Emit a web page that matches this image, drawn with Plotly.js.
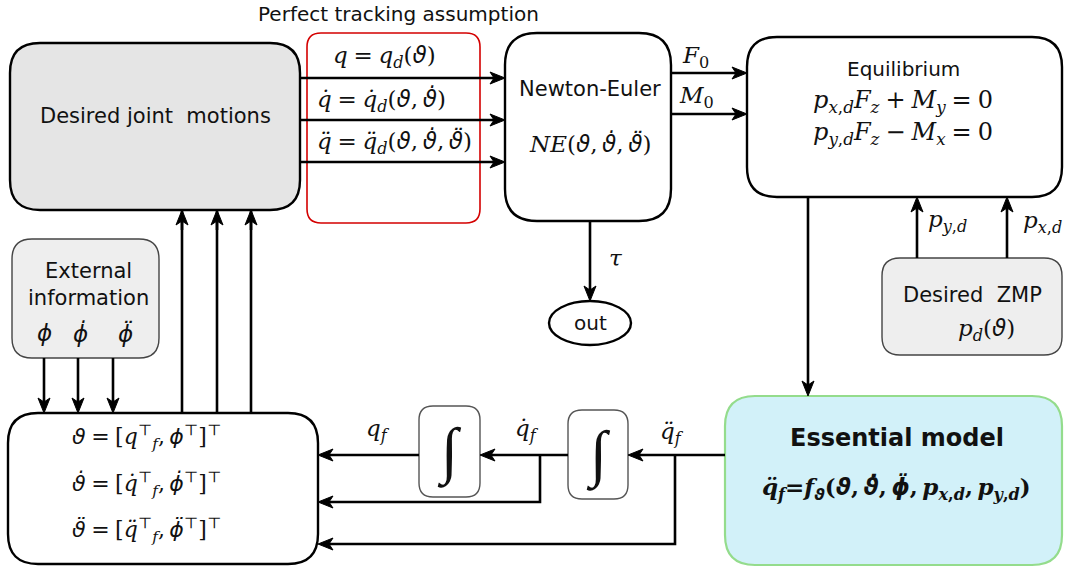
<!DOCTYPE html>
<html>
<head>
<meta charset="utf-8">
<script src="https://cdn.plot.ly/plotly-3.0.1.min.js"></script>
<style>html,body{margin:0;padding:0;background:#fff;}#chart{width:1072px;height:572px;}</style>
</head>
<body>
<div id="chart"></div>
<script>
// Greek glyphs are drawn in a face that composes the combining dots correctly
const G = s => `<span style="font-family:DejaVu Sans">${s}</span>`;
const th = G("ϑ"), thD = G("ϑ̇"), thDD = G("ϑ̈"), ph = G("ϕ"), phD = G("ϕ̇"), phDD = G("ϕ̈");

// ---- Text content (labels of the diagram) ----
const titleText = "Perfect tracking assumption";
const blockLabels = ["Desired joint\u00a0\u00a0motions", "Newton-Euler", "Equilibrium", "Desired\u00a0\u00a0ZMP", "External<br>information", "out", "Essential model"];
const trackingEqs = [
  `<i>q</i>\u2005=\u2005<i>q</i><sub><i>d</i></sub>(<i>${th}</i>)`,
  `<i>q̇</i>\u2005=\u2005<i>q̇</i><sub><i>d</i></sub>(<i>${th}</i>,\u2009<i>${thD}</i>)`,
  `<i>q̈</i>\u2005=\u2005<i>q̈</i><sub><i>d</i></sub>(<i>${th}</i>,\u2009<i>${thD}</i>,\u2009<i>${thDD}</i>)`
];
const neFormula = `<i>NE</i>(<i>${th}</i>,\u2009<i>${thD}</i>,\u2009<i>${thDD}</i>)`;
const wrenchLabels = ["<i>F</i><sub>0</sub>", "<i>M</i><sub>0</sub>"];
const equilibriumEqs = [
  "<i>p</i><sub><i>x</i>,<i>d</i></sub><i>F</i><sub><i>z</i></sub>\u2005+\u2005<i>M</i><sub><i>y</i></sub>\u2005=\u20050",
  "<i>p</i><sub><i>y</i>,<i>d</i></sub><i>F</i><sub><i>z</i></sub>\u2005−\u2005<i>M</i><sub><i>x</i></sub>\u2005=\u20050"
];
const torqueLabel = "<i>τ</i>";
const zmpLabels = ["<i>p</i><sub><i>y</i>,<i>d</i></sub>", "<i>p</i><sub><i>x</i>,<i>d</i></sub>"];
const zmpFormula = `<i>p</i><sub><i>d</i></sub>(<i>${th}</i>)`;
const externalSymbols = [`<i>${ph}</i>`, `<i>${phD}</i>`, `<i>${phDD}</i>`];
const stateEqs = [
  `<i>${th}</i>\u2005=\u2005[<i>q</i><sup>⊤</sup><sub><i>f</i></sub>,\u2009<i>${ph}</i><sup>⊤</sup>]<sup>⊤</sup>`,
  `<i>${thD}</i>\u2005=\u2005[<i>q̇</i><sup>⊤</sup><sub><i>f</i></sub>,\u2009<i>${phD}</i><sup>⊤</sup>]<sup>⊤</sup>`,
  `<i>${thDD}</i>\u2005=\u2005[<i>q̈</i><sup>⊤</sup><sub><i>f</i></sub>,\u2009<i>${phDD}</i><sup>⊤</sup>]<sup>⊤</sup>`
];
const feedbackLabels = ["<i>q</i><sub><i>f</i></sub>", "<i>q̇</i><sub><i>f</i></sub>", "<i>q̈</i><sub><i>f</i></sub>"];
const integralSymbol = "∫";
const modelEq = `<b><i>q̈</i><sub><i>f</i></sub>=<i>f</i><sub><i>${th}</i></sub>(<i>${th}</i>,\u2009<i>${thD}</i>,\u2009<i>${phDD}</i>,\u2009<i>p</i><sub><i>x</i>,<i>d</i></sub>,\u2009<i>p</i><sub><i>y</i>,<i>d</i></sub>)</b>`;

// ---- Geometry / styling (layout of the diagram) ----
const SANS = "DejaVu Sans";
const SERIF = "DejaVu Serif";

function rr(x0, y0, x1, y1, r) {
  return `M${x0+r},${y0} L${x1-r},${y0} Q${x1},${y0} ${x1},${y0+r} L${x1},${y1-r} Q${x1},${y1} ${x1-r},${y1} L${x0+r},${y1} Q${x0},${y1} ${x0},${y1-r} L${x0},${y0+r} Q${x0},${y0} ${x0+r},${y0} Z`;
}
const shapes = [];
function box(x0, y0, x1, y1, r, fill, lc, lw) {
  shapes.push({type: "path", xref: "x", yref: "y", path: rr(x0, y0, x1, y1, r), fillcolor: fill, line: {color: lc, width: lw}, layer: "below"});
}
function arrow(pts, head) {
  const n = pts.length;
  const [tx, ty] = pts[n-1];
  const [px, py] = pts[n-2];
  let dx = tx - px, dy = ty - py;
  const len = Math.hypot(dx, dy); dx /= len; dy /= len;
  const L = 15, W = 6, N = 4;
  const linePts = pts.map(p => p.slice());
  if (head) { linePts[n-1] = [tx - dx*(L-N-1), ty - dy*(L-N-1)]; }
  shapes.push({type: "path", xref: "x", yref: "y", path: "M" + linePts.map(p => p[0] + "," + p[1]).join(" L"), line: {color: "#000", width: 2.6}});
  if (head) {
    const bx = tx - dx*L, by = ty - dy*L;
    const ppx = -dy, ppy = dx;
    const path = `M${tx},${ty} L${bx+W*ppx},${by+W*ppy} L${tx-dx*(L-N)},${ty-dy*(L-N)} L${bx-W*ppx},${by-W*ppy} Z`;
    shapes.push({type: "path", xref: "x", yref: "y", path: path, fillcolor: "#000", line: {color: "#000", width: 1}});
  }
}

// boxes
box(10, 43, 300, 210, 30, "#e5e5e5", "#000", 2.4);
box(307, 33, 480, 223, 14, "rgba(0,0,0,0)", "#d40000", 1.6);
box(505, 33, 671, 221, 32, "#ffffff", "#000", 2.4);
box(747, 37, 1062, 197, 30, "#ffffff", "#000", 2.4);
box(882, 258, 1062, 355, 18, "#eeeeee", "#444", 1.4);
box(12, 239, 159, 358, 20, "#eeeeee", "#444", 1.4);
box(8, 413, 318, 564, 30, "#ffffff", "#000", 2.4);
box(419, 406, 480, 497, 14, "#ffffff", "#555", 1.4);
box(568, 410, 628, 499, 14, "#ffffff", "#555", 1.4);
box(725, 396, 1062, 565, 30, "#d2f1f9", "#94dc8c", 2.2);
shapes.push({type: "circle", xref: "x", yref: "y", x0: 549, x1: 631, y0: 301, y1: 345, fillcolor: "#fff", line: {color: "#000", width: 2.4}});

// arrows
[78, 120, 162].forEach(y => arrow([[300, y], [505, y]], true));
[73, 114].forEach(y => arrow([[671, y], [747, y]], true));
arrow([[590, 221], [590, 301]], true);
arrow([[808, 197], [808, 396]], true);
[917, 1007].forEach(x => arrow([[x, 258], [x, 197]], true));
[44, 78, 113].forEach(x => arrow([[x, 358], [x, 413]], true));
[182, 217, 251].forEach(x => arrow([[x, 413], [x, 210]], false));
[182, 217, 251].forEach(x => arrow([[x, 230], [x, 210]], true));
arrow([[725, 455], [628, 455]], true);
arrow([[568, 455], [480, 455]], true);
arrow([[419, 455], [318, 455]], true);
arrow([[540, 455], [540, 502], [318, 502]], true);
arrow([[675, 455], [675, 544], [318, 544]], true);

// annotations
const ann = [];
function txt(x, y, text, size, family, opts) {
  ann.push(Object.assign({x: x, y: y, xref: "x", yref: "y", text: text, showarrow: false,
    font: {family: family, size: size, color: "#111"}, xanchor: "center", yanchor: "middle"}, opts || {}));
}
txt(398, 14, titleText, 20, SANS);
txt(155, 116, blockLabels[0], 21, SANS);
txt(384, 57, trackingEqs[0], 23, SERIF);
txt(381, 100, trackingEqs[1], 23, SERIF);
txt(394, 142, trackingEqs[2], 23, SERIF);
txt(590, 89, blockLabels[1], 21, SANS);
txt(590, 143, neFormula, 23, SERIF);
txt(695, 57, wrenchLabels[0], 23, SERIF);
txt(696, 97, wrenchLabels[1], 23, SERIF);
txt(903, 69, blockLabels[2], 20, SANS);
txt(903, 101, equilibriumEqs[0], 24, SERIF);
txt(903, 133, equilibriumEqs[1], 24, SERIF);
txt(616, 258, torqueLabel, 23, SERIF);
txt(590, 323, blockLabels[5], 20, SANS);
txt(947, 221, zmpLabels[0], 23, SERIF);
txt(1042, 222, zmpLabels[1], 23, SERIF);
txt(972, 295, blockLabels[3], 21, SANS);
txt(986, 330, zmpFormula, 23, SERIF);
txt(88, 284, blockLabels[4], 21, SANS);
txt(44, 333, externalSymbols[0], 23, SERIF);
txt(80, 333, externalSymbols[1], 23, SERIF);
txt(125, 333, externalSymbols[2], 23, SERIF);
[437, 484, 530].forEach((y, i) => txt(70, y, stateEqs[i], 22, SERIF, {xanchor: "left"}));
txt(378, 430, feedbackLabels[0], 23, SERIF);
txt(527, 430, feedbackLabels[1], 23, SERIF);
txt(672, 433, feedbackLabels[2], 23, SERIF);
txt(449, 452, integralSymbol, 62, "Liberation Serif");
txt(598, 455, integralSymbol, 62, "Liberation Serif");
txt(897, 438, "<b>" + blockLabels[6] + "</b>", 24, SANS);
txt(896, 488, modelEq, 23, SERIF);

const layout = {
  width: 1072, height: 572,
  margin: {l: 0, r: 0, t: 0, b: 0},
  paper_bgcolor: "#fff", plot_bgcolor: "#fff",
  xaxis: {range: [0, 1072], visible: false, fixedrange: true},
  yaxis: {range: [572, 0], visible: false, fixedrange: true},
  showlegend: false,
  shapes: shapes,
  annotations: ann
};
Plotly.newPlot("chart", [{x: [0], y: [0], type: "scatter", mode: "markers", marker: {opacity: 0}, hoverinfo: "skip"}], layout, {staticPlot: true});
</script>
</body>
</html>
